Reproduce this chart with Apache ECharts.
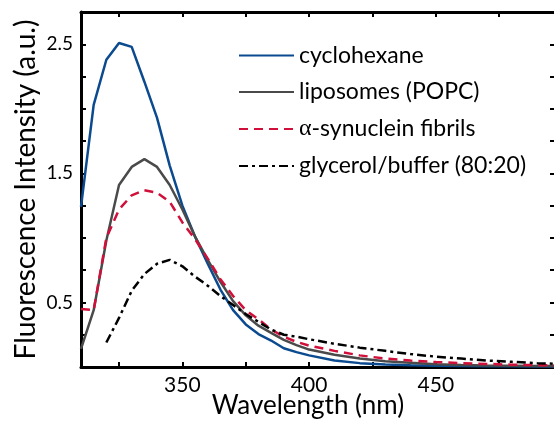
<!DOCTYPE html>
<html>
<head>
<meta charset="utf-8">
<script src="https://cdn.jsdelivr.net/npm/echarts@6/dist/echarts.min.js"></script>
<style>
  html, body { margin: 0; padding: 0; background: #fff; }
  #chart_content { width: 554px; height: 421px; }
</style>
</head>
<body>
<div id="chart_content"></div>
<script>
// wavelength grid (nm) shared by all spectra
let wavelengths = [310, 315, 320, 325, 330, 335, 340, 345, 350, 355, 360, 365, 370, 375, 380, 385, 390, 395, 400,
    410, 420, 430, 440, 450, 460, 470, 480, 490, 497];

let cyclohexane = [1.24, 2.03, 2.38, 2.51, 2.48, 2.21, 1.93, 1.56, 1.25, 1.01, 0.80, 0.60, 0.44, 0.33, 0.255, 0.205, 0.145, 0.115, 0.09,
    0.05, 0.03, 0.02, 0.013, 0.009, 0.007, 0.006, 0.005, 0.004, 0.004];
let liposomes = [0.14, 0.44, 0.98, 1.41, 1.55, 1.61, 1.55, 1.41, 1.22, 1.01, 0.83, 0.66, 0.51, 0.40, 0.32, 0.265, 0.21, 0.17, 0.135,
    0.095, 0.065, 0.045, 0.032, 0.022, 0.016, 0.012, 0.010, 0.008, 0.007];
let fibrils = [0.45, 0.44, 1.0, 1.22, 1.33, 1.37, 1.35, 1.28, 1.12, 0.99, 0.84, 0.68, 0.55, 0.44, 0.37, 0.29, 0.235, 0.195, 0.165,
    0.125, 0.09, 0.065, 0.05, 0.038, 0.03, 0.024, 0.018, 0.014, 0.012];
let glycerol = [null, null, 0.19, 0.38, 0.59, 0.72, 0.80, 0.83, 0.78, 0.70, 0.63, 0.55, 0.48, 0.41, 0.35, 0.29, 0.25, 0.235, 0.215,
    0.18, 0.15, 0.125, 0.10, 0.08, 0.065, 0.05, 0.04, 0.03, 0.025];

let seriesNames = ['cyclohexane', 'liposomes (POPC)', 'α-synuclein fibrils', 'glycerol/buffer (80:20)'];

let xTicks = [325, 350, 375, 400, 425, 450, 475];
let xLabels = [350, 400, 450];
let yTicks = [0, 0.25, 0.5, 0.75, 1, 1.25, 1.5, 1.75, 2, 2.25, 2.5];
let yLabels = [0.5, 1.5, 2.5];
let yMax = 2.75;

let font = 'Lato';

function pairs(values) {
    return wavelengths.map((w, i) => [w, values[i]]);
}

function frameLine() {
    return { show: true, onZero: false, lineStyle: { color: '#000', width: 3 } };
}
function innerTick(values) {
    return { show: true, inside: true, length: 5, customValues: values, lineStyle: { color: '#000', width: 2 } };
}

let chart = echarts.init(document.getElementById('chart_content'));
chart.setOption({
    animation: false,
    grid: {
        left: 81,
        top: 12,
        width: 474,
        bottom: 54,
        containLabel: false,
        outerBoundsMode: 'none'
    },
    legend: {
        orient: 'vertical',
        left: 233,
        top: 39,
        itemWidth: 55,
        itemHeight: 14,
        itemGap: 13.5,
        data: seriesNames,
        itemStyle: { opacity: 0 },
        textStyle: {
            fontFamily: font,
            fontSize: 23,
            color: '#000',
            rich: {
                a: { fontFamily: 'Liberation Serif', fontSize: 24, color: '#000' }
            }
        },
        formatter: function (name) {
            return name.replace('α', '{a|α}');
        }
    },
    xAxis: [
        {
            type: 'value',
            position: 'bottom',
            min: 310,
            max: 497,
            name: 'Wavelength (nm)',
            nameLocation: 'middle',
            nameGap: 26,
            nameMoveOverlap: false,
            nameTextStyle: { fontFamily: font, fontSize: 26, color: '#000', padding: [0, 20, 0, 0] },
            axisLine: frameLine(),
            axisTick: innerTick(xTicks),
            axisLabel: { customValues: xLabels, fontFamily: font, fontSize: 21, color: '#000', margin: 8 },
            splitLine: { show: false }
        },
        {
            type: 'value',
            position: 'top',
            min: 310,
            max: 497,
            axisLine: frameLine(),
            axisTick: innerTick(xTicks),
            axisLabel: { show: false },
            splitLine: { show: false }
        }
    ],
    yAxis: [
        {
            type: 'value',
            position: 'left',
            min: 0,
            max: yMax,
            name: 'Fluorescence Intensity (a.u.)',
            nameLocation: 'middle',
            nameGap: 41,
            nameMoveOverlap: false,
            nameTextStyle: { fontFamily: font, fontSize: 28, color: '#000' },
            axisLine: frameLine(),
            axisTick: innerTick(yTicks),
            axisLabel: { customValues: yLabels, fontFamily: font, fontSize: 19, color: '#000', margin: 8 },
            splitLine: { show: false }
        },
        {
            type: 'value',
            position: 'right',
            min: 0,
            max: yMax,
            axisLine: frameLine(),
            axisTick: innerTick(yTicks),
            axisLabel: { show: false },
            splitLine: { show: false }
        }
    ],
    series: [
        {
            name: seriesNames[0],
            type: 'line',
            symbol: 'none',
            clip: false,
            data: pairs(cyclohexane),
            lineStyle: { color: '#0b4a8f', width: 2.5 },
            itemStyle: { color: '#0b4a8f' },
            // top edge of the frame
            markLine: {
                silent: true,
                symbol: 'none',
                label: { show: false },
                lineStyle: { color: '#000', width: 3, type: 'solid' },
                data: [{ yAxis: yMax }]
            }
        },
        {
            name: seriesNames[1],
            type: 'line',
            symbol: 'none',
            data: pairs(liposomes),
            lineStyle: { color: '#4a4a4a', width: 2.5 },
            itemStyle: { color: '#4a4a4a' }
        },
        {
            name: seriesNames[2],
            type: 'line',
            symbol: 'none',
            data: pairs(fibrils),
            lineStyle: { color: '#d0103a', width: 2.5, type: [9, 6] },
            itemStyle: { color: '#d0103a' }
        },
        {
            name: seriesNames[3],
            type: 'line',
            symbol: 'none',
            connectNulls: false,
            data: pairs(glycerol),
            lineStyle: { color: '#000', width: 2.5, type: [9, 4, 3, 4] },
            itemStyle: { color: '#000' }
        }
    ]
});
</script>
</body>
</html>
